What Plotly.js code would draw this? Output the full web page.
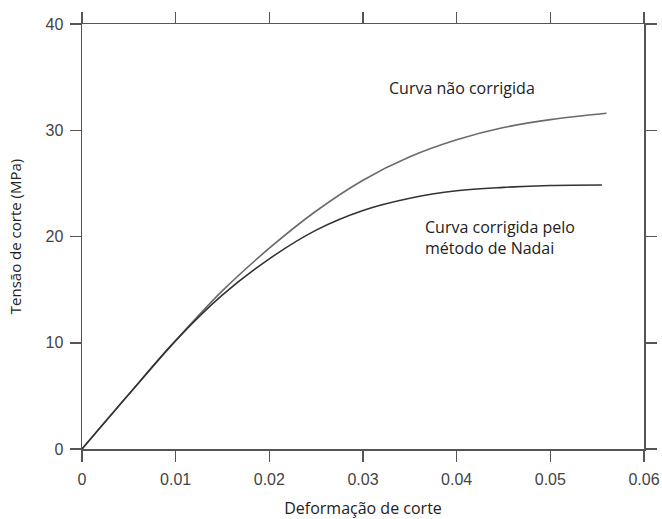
<!DOCTYPE html>
<html>
<head>
<meta charset="utf-8">
<script src="https://cdn.plot.ly/plotly-3.0.1.min.js"></script>
<style>html,body{margin:0;padding:0;background:#fff;}#chart{width:662px;height:519px;}</style>
</head>
<body>
<div id="chart"></div>
<script>
// Shear strain values and shear stresses (MPa)
const strainUncorrected = [0, 0.005, 0.01, 0.015, 0.02, 0.025, 0.03, 0.035, 0.04, 0.045, 0.05, 0.056];
const stressUncorrected = [0, 5.15, 10.2, 14.9, 18.9, 22.4, 25.3, 27.5, 29.1, 30.25, 31.0, 31.6];
const strainCorrected = [0, 0.005, 0.01, 0.015, 0.02, 0.025, 0.03, 0.035, 0.04, 0.045, 0.05, 0.0555];
const stressCorrected = [0, 5.15, 10.2, 14.5, 17.9, 20.6, 22.45, 23.6, 24.3, 24.62, 24.8, 24.85];
const xTickVals = [0, 0.01, 0.02, 0.03, 0.04, 0.05, 0.06];
const xTickText = ["0", "0.01", "0.02", "0.03", "0.04", "0.05", "0.06"];
const yTickVals = [0, 10, 20, 30, 40];
const labelUncorrected = "Curva não corrigida";
const labelCorrected1 = "Curva corrigida pelo";
const labelCorrected2 = "método de Nadai";

const traces = [
  {x: strainUncorrected, y: stressUncorrected, mode: 'lines', line: {color: '#6a6a6a', width: 1.6, shape: 'spline', smoothing: 1}, hoverinfo: 'skip'},
  {x: strainCorrected, y: stressCorrected, mode: 'lines', line: {color: '#333333', width: 1.6, shape: 'spline', smoothing: 1}, hoverinfo: 'skip'}
];

const axisCommon = {
  showgrid: false, zeroline: false, showline: true, linecolor: '#555', linewidth: 1.5,
  ticks: 'outside', ticklen: 11, tickwidth: 1.5, tickcolor: '#555', mirror: 'ticks',
  tickfont: {family: 'Liberation Sans, Arial, sans-serif', size: 16, color: '#444'}
};

const textFont = {family: 'Open Sans, sans-serif', size: 16, color: '#222'};

const layout = {
  width: 662, height: 519,
  margin: {l: 82, r: 18, t: 24, b: 70},
  paper_bgcolor: '#fff', plot_bgcolor: '#fff',
  showlegend: false,
  xaxis: Object.assign({}, axisCommon, {
    range: [0, 0.06], tickvals: xTickVals, ticktext: xTickText, ticklabelstandoff: 4,
    title: {text: 'Deformação de corte', font: textFont, standoff: 16}
  }),
  yaxis: Object.assign({}, axisCommon, {
    range: [0, 40], tickvals: yTickVals, ticklabelstandoff: 3,
    title: {text: 'Tensão de corte (MPa)', font: Object.assign({}, textFont, {size: 15}), standoff: 20}
  }),
  annotations: [
    {x: 0.0326, y: 34.0, xref: 'x', yref: 'y', text: labelUncorrected, showarrow: false, xanchor: 'left', yanchor: 'middle', font: textFont},
    {x: 0.0364, y: 20.9, xref: 'x', yref: 'y', text: labelCorrected1, showarrow: false, xanchor: 'left', yanchor: 'middle', font: textFont},
    {x: 0.0364, y: 18.95, xref: 'x', yref: 'y', text: labelCorrected2, showarrow: false, xanchor: 'left', yanchor: 'middle', font: textFont}
  ]
};

Plotly.newPlot('chart', traces, layout, {staticPlot: true, displayModeBar: false});
</script>
</body>
</html>
